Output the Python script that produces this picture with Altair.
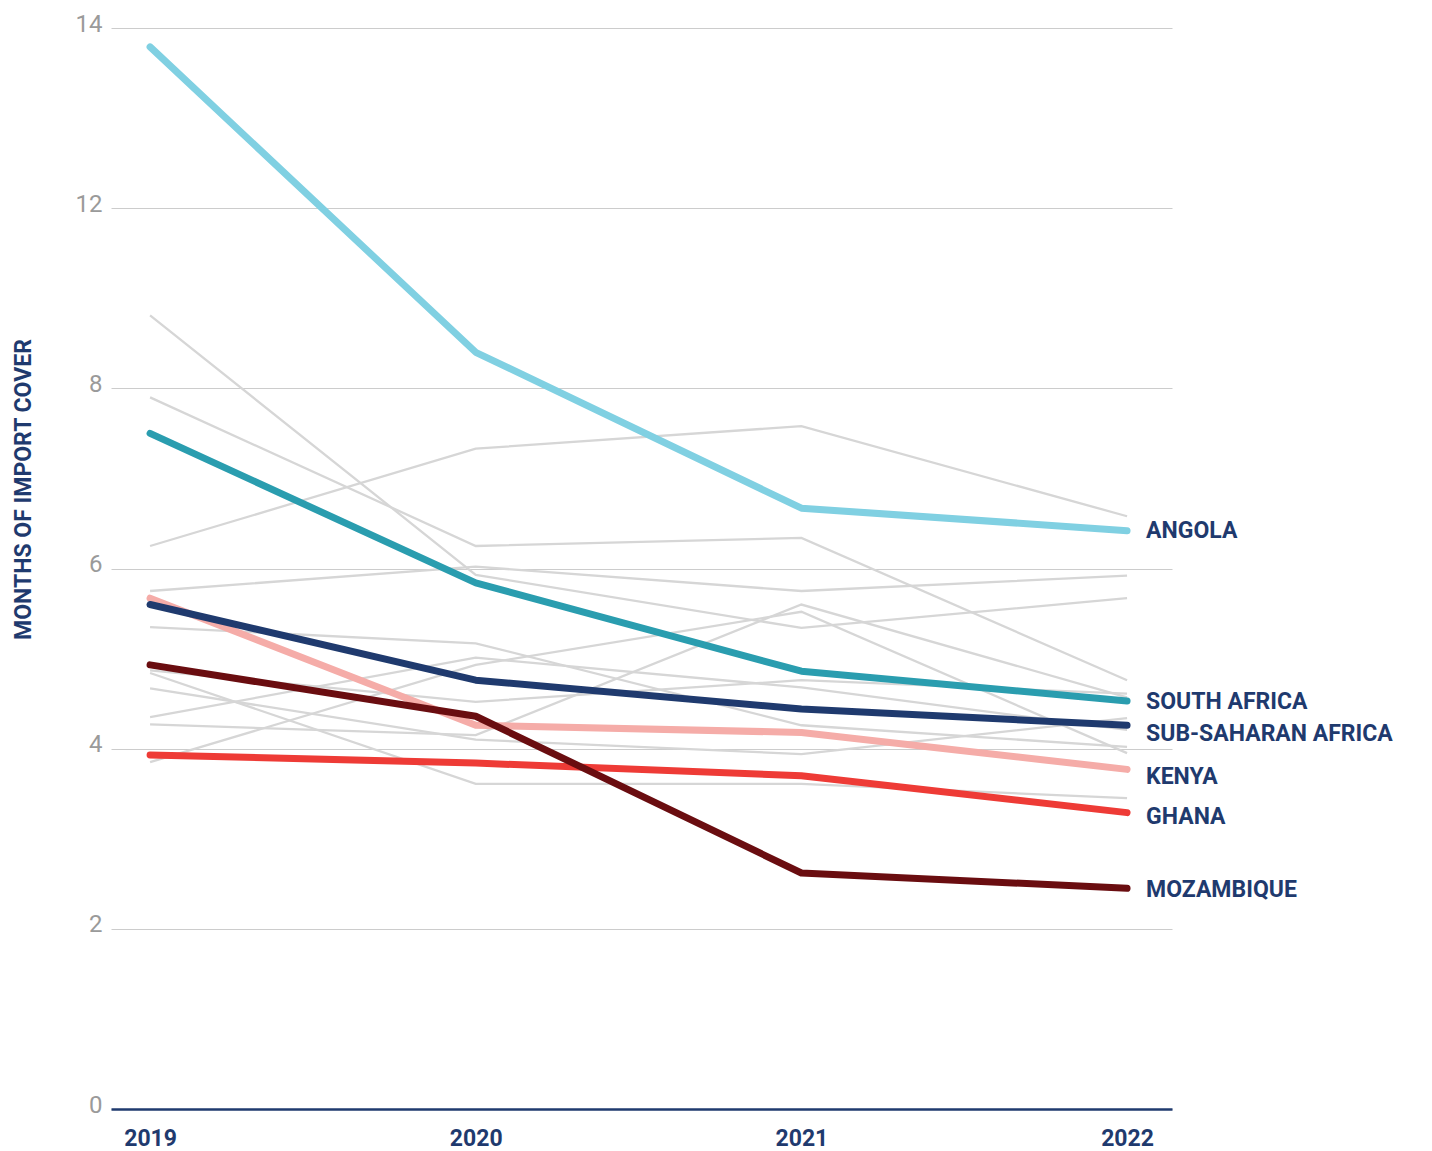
import altair as alt
import pandas as pd

years = [2019, 2020, 2021, 2022]

# Highlighted series (months of import cover)
hl_names = ["Angola", "South Africa", "Sub-Saharan Africa", "Kenya", "Ghana", "Mozambique"]
hl_labels = ["ANGOLA", "SOUTH AFRICA", "SUB-SAHARAN AFRICA", "KENYA", "GHANA", "MOZAMBIQUE"]
angola = [13.79, 8.8, 6.67, 6.42]
south_africa = [7.5, 5.84, 4.86, 4.53]
sub_saharan_africa = [5.6, 4.76, 4.44, 4.26]
kenya = [5.67, 4.26, 4.18, 3.77]
ghana = [3.93, 3.84, 3.70, 3.29]
mozambique = [4.93, 4.36, 2.62, 2.45]
hl_values = [angola, south_africa, sub_saharan_africa, kenya, ghana, mozambique]
hl_colors = ["#80d0e2", "#2a9daf", "#1f3a6e", "#f5aca8", "#ee3b36", "#6a0d10"]
label_nudge = [0, 1, 9, 8, 4, 2]
draw_order = ["Angola", "South Africa", "Kenya", "Sub-Saharan Africa", "Ghana", "Mozambique"]

# Other countries (grey context lines)
other_a = [9.62, 5.93, 5.34, 5.67]
other_b = [7.90, 6.25, 6.34, 4.76]
other_c = [6.25, 7.33, 7.58, 6.58]
other_d = [5.75, 6.02, 5.75, 5.92]
other_e = [5.35, 5.17, 4.26, 4.02]
other_f = [4.84, 3.61, 3.61, 3.45]
other_g = [4.67, 4.10, 3.94, 4.34]
other_h = [4.35, 5.01, 4.68, 4.21]
other_i = [4.27, 4.15, 5.60, 4.57]
other_j = [3.85, 4.93, 5.52, 3.95]
other_k = [4.87, 4.52, 4.76, 4.61]
others = [other_a, other_b, other_c, other_d, other_e, other_f,
          other_g, other_h, other_i, other_j, other_k]

y_ticks = [0, 2, 4, 6, 8, 12, 14]

W, H = 1061, 1081
step = H / 6.0

grey_rows = []
for i, vals in enumerate(others):
    for yr, v in zip(years, vals):
        grey_rows.append({"country": f"c{i}", "year": yr, "value": v})
grey_df = pd.DataFrame(grey_rows)

x_enc = alt.X(
    "year:Q",
    scale=alt.Scale(domain=[2018.88, 2022.138], nice=False, zero=False),
    axis=alt.Axis(
        values=years, format="d", grid=False, domain=True,
        domainColor="#1f3a6e", domainWidth=2.5, ticks=False,
        labelFont="Roboto", labelFontSize=23, labelFontWeight="bold",
        labelColor="#1f3a6e", labelPadding=18, labelFlush=False, title=None,
    ),
)
y_enc = alt.Y(
    "value:Q",
    scale=alt.Scale(domain=[0, 8, 12, 14], range=[H, H - 4 * step, H - 5 * step, 0]),
    axis=alt.Axis(
        values=y_ticks, grid=True, gridColor="#cccccc", gridWidth=1,
        domain=False, ticks=False, labelColor="#9a9a9a", labelFont="Roboto",
        labelFontSize=24, labelPadding=9, labelBaseline="middle", labelOffset=-4,
        title="MONTHS OF IMPORT COVER", titleFont="Roboto", titleFontSize=23,
        titleFontWeight="bold", titleColor="#1f3a6e", titleAngle=270,
        titleX=-88, titleY=461, titleAlign="center", titleBaseline="middle",
    ),
)

layers = [
    alt.Chart(grey_df).mark_line(strokeWidth=2.3, color="#d6d6d6").encode(
        x=x_enc, y=y_enc, detail="country:N"
    )
]

for name in draw_order:
    idx = hl_names.index(name)
    df = pd.DataFrame({"year": years, "value": hl_values[idx], "country": name})
    layers.append(
        alt.Chart(df).mark_line(
            strokeWidth=7, strokeCap="round", strokeJoin="round", color=hl_colors[idx]
        ).encode(x=x_enc, y=y_enc)
    )

for idx, name in enumerate(hl_names):
    df = pd.DataFrame({"year": [years[-1]], "value": [hl_values[idx][-1]], "label": [hl_labels[idx]]})
    layers.append(
        alt.Chart(df).mark_text(
            align="left", baseline="middle", dx=19, dy=label_nudge[idx],
            font="Roboto", fontSize=23, fontWeight="bold", color="#1f3a6e",
        ).encode(x=x_enc, y=y_enc, text="label:N")
    )

chart = alt.layer(*layers).properties(
    width=W, height=H,
    padding={"left": 103, "top": 20, "right": 250, "bottom": 46},
    autosize=alt.AutoSizeParams(type="none"),
    background="white",
).configure_view(stroke=None)

chart.save("out.html", embed_options={"renderer": "svg", "actions": False})
